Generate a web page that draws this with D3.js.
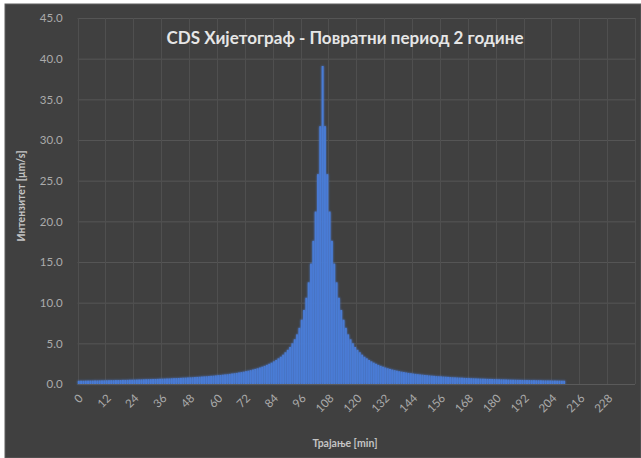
<!DOCTYPE html>
<html>
<head>
<meta charset="utf-8">
<script src="https://cdn.jsdelivr.net/npm/d3@7"></script>
<style>
  html, body { margin: 0; padding: 0; background: #ffffff; }
  svg { display: block; }
</style>
</head>
<body>
<svg id="chart" width="641" height="458"></svg>
<script>
// Text
const chartTitle = "CDS Хијетограф - Повратни период 2 године";
const xAxisTitle = "Трајање [min]";
const yAxisTitle = "Интензитет [μm/s]";

// Category axis: one category per minute
const minutes = d3.range(0, 240);

// Rainfall intensity [μm/s] for minutes 0..209
const intensity = [
  0.39,0.40,0.40,0.41,0.41,0.42,0.42,0.43,0.43,0.44,
  0.44,0.45,0.46,0.46,0.47,0.47,0.48,0.48,0.49,0.50,
  0.50,0.51,0.52,0.52,0.53,0.54,0.55,0.56,0.57,0.58,
  0.59,0.60,0.61,0.62,0.63,0.64,0.65,0.66,0.67,0.68,
  0.70,0.71,0.72,0.74,0.75,0.77,0.78,0.80,0.81,0.83,
  0.85,0.87,0.89,0.91,0.93,0.95,0.97,1.00,1.02,1.05,
  1.08,1.11,1.14,1.17,1.20,1.24,1.28,1.32,1.36,1.41,
  1.46,1.51,1.57,1.63,1.70,1.77,1.85,1.93,2.02,2.12,
  2.23,2.35,2.48,2.62,2.78,2.95,3.15,3.35,3.60,3.90,
  4.20,4.55,5.00,5.50,6.10,6.90,7.90,9.10,10.6,12.5,
  14.8,17.6,21.2,25.8,31.7,
  39.1,
  31.7,25.8,21.2,17.6,14.8,
  12.5,10.6,9.10,7.90,6.90,6.10,5.50,5.00,4.55,4.20,
  3.90,3.60,3.35,3.15,2.95,2.78,2.62,2.48,2.35,2.23,
  2.12,2.02,1.93,1.85,1.77,1.70,1.63,1.57,1.51,1.46,
  1.41,1.36,1.32,1.28,1.24,1.20,1.17,1.14,1.11,1.08,
  1.05,1.02,1.00,0.97,0.95,0.93,0.91,0.89,0.87,0.85,
  0.83,0.81,0.80,0.78,0.77,0.75,0.74,0.72,0.71,0.70,
  0.68,0.67,0.66,0.65,0.64,0.63,0.62,0.61,0.60,0.59,
  0.58,0.57,0.56,0.55,0.54,0.53,0.52,0.52,0.51,0.50,
  0.50,0.49,0.48,0.48,0.47,0.47,0.46,0.46,0.45,0.44,
  0.44,0.43,0.43,0.42,0.42,0.41,0.41,0.40,0.40
];

// Axis labels
const xTickLabels = [0,12,24,36,48,60,72,84,96,108,120,132,144,156,168,180,192,204,216,228];
const yTickValues = [0,5,10,15,20,25,30,35,40,45];

const svg = d3.select("#chart");
const W = 641, H = 458;
const plot = { left: 77.6, right: 635, top: 18, bottom: 384 };
const font = "Lato, 'Open Sans', 'DejaVu Sans', sans-serif";

// chart background
svg.append("rect").attr("x", 5).attr("y", 4).attr("width", W - 5).attr("height", H - 4)
  .attr("fill", "#404040").attr("stroke", "#5e5e5e").attr("stroke-width", 1);

const x = d3.scaleBand().domain(minutes).range([plot.left, plot.right]).paddingInner(0.18).paddingOuter(0.09);
const step = x.step();
const y = d3.scaleLinear().domain([0, 45]).range([plot.bottom, plot.top]);

// horizontal gridlines
svg.append("g").selectAll("line").data(yTickValues).join("line")
  .attr("x1", plot.left).attr("x2", plot.right)
  .attr("y1", d => y(d) + 0.5).attr("y2", d => y(d) + 0.5)
  .attr("stroke", "#555555").attr("stroke-width", 1);

// vertical gridlines at every labelled category boundary
const vLines = xTickLabels.concat([240]);
svg.append("g").selectAll("line").data(vLines).join("line")
  .attr("x1", d => Math.round(plot.left + d * step) + 0.5)
  .attr("x2", d => Math.round(plot.left + d * step) + 0.5)
  .attr("y1", plot.top).attr("y2", plot.bottom)
  .attr("stroke", "#4f4f4f").attr("stroke-width", 1);

// y axis labels
const yAxis = d3.axisLeft(y).tickValues(yTickValues).tickFormat(d3.format(".1f")).tickSize(0).tickPadding(15);
const gy = svg.append("g").attr("transform", `translate(${plot.left},0)`).call(yAxis);
gy.select(".domain").remove();
gy.selectAll("text").attr("fill", "#ababab").style("font-family", font).style("font-size", "11.5px");

// soft edge on the bars
const defs = svg.append("defs");
const glow = defs.append("filter").attr("id", "soft").attr("x", "-5%").attr("y", "-5%").attr("width", "110%").attr("height", "110%");
glow.append("feGaussianBlur").attr("in", "SourceGraphic").attr("stdDeviation", 1.1).attr("result", "b");
const merge = glow.append("feMerge");
merge.append("feMergeNode").attr("in", "b");
merge.append("feMergeNode").attr("in", "SourceGraphic");

// bars
svg.append("g").attr("filter", "url(#soft)")
  .selectAll("rect").data(intensity).join("rect")
  .attr("x", (d, i) => x(minutes[i]))
  .attr("width", x.bandwidth())
  .attr("y", d => y(d))
  .attr("height", d => y(0) - y(d))
  .attr("fill", "#4a7bd5");

// zero line
svg.append("line").attr("x1", plot.left).attr("x2", plot.right)
  .attr("y1", plot.bottom + 0.5).attr("y2", plot.bottom + 0.5)
  .attr("stroke", "#5a5a5a");

// x axis labels, rotated
const xAxis = d3.axisBottom(x).tickValues(xTickLabels).tickSize(0).tickPadding(0);
const gx = svg.append("g").attr("transform", `translate(0,${plot.bottom})`).call(xAxis);
gx.select(".domain").remove();
gx.selectAll("text")
  .attr("fill", "#ababab").style("font-family", font).style("font-size", "11.5px")
  .attr("text-anchor", "end")
  .attr("dy", null).attr("y", 0)
  .attr("transform", "translate(5,15) rotate(-45)");

// chart title fitted to its width
const t = svg.append("text").attr("x", 345).attr("y", 44).attr("text-anchor", "middle")
  .attr("fill", "#e6e6e6").style("font-family", font).style("font-weight", "700").style("font-size", "16px")
  .text(chartTitle);
const tw = t.node().getComputedTextLength();
t.style("font-size", (16 * 357 / tw).toFixed(2) + "px");

// axis titles
svg.append("text").attr("x", 345).attr("y", 447).attr("text-anchor", "middle")
  .attr("fill", "#c4c4c4").style("font-family", font).style("font-weight", "700").style("font-size", "10.5px")
  .text(xAxisTitle);

svg.append("text").attr("transform", "translate(25,196) rotate(-90)").attr("text-anchor", "middle")
  .attr("fill", "#c4c4c4").style("font-family", font).style("font-weight", "700").style("font-size", "10.5px")
  .text(yAxisTitle);
</script>
</body>
</html>
